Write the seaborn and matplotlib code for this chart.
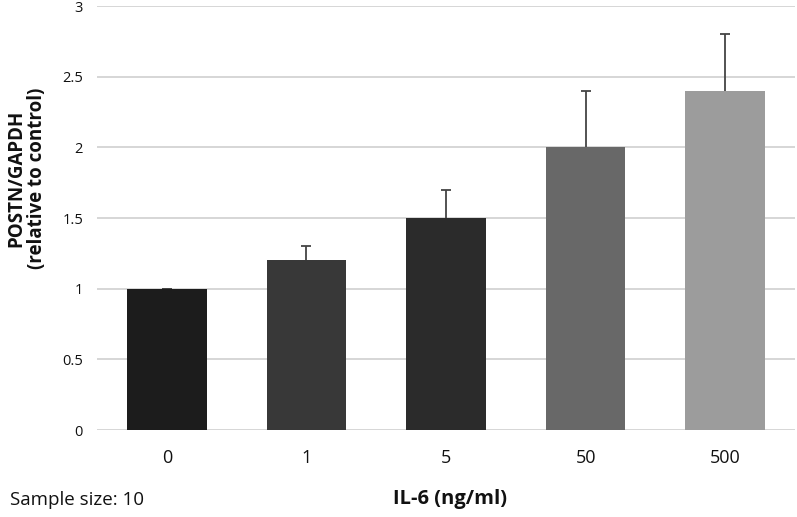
import numpy as np
import pandas as pd
import matplotlib
matplotlib.use('Agg')
import matplotlib.pyplot as plt
import seaborn as sns

doses = ['0', '1', '5', '50', '500']
ratio = [1.0, 1.2, 1.5, 2.0, 2.4]
err_up = [0.0, 0.1, 0.2, 0.4, 0.4]
bar_colors = ['#1c1c1c', '#383838', '#2b2b2b', '#686868', '#9c9c9c']

sns.set_theme(style='white')
plt.rcParams['font.family'] = ['Open Sans', 'DejaVu Sans']

df = pd.DataFrame({'dose': doses, 'ratio': ratio})

fig = plt.figure(figsize=(7.97, 5.17), dpi=100)
ax = fig.add_axes([97 / 797, 1 - 430 / 517, 698 / 797, 424 / 517])

# symmetric bars drawn under the bars -> only the upper half shows
ax.errorbar(np.arange(len(doses)), ratio, yerr=err_up,
            fmt='none', ecolor='#444444', elinewidth=1.3, capsize=3.5,
            capthick=1.3, zorder=2)
sns.barplot(data=df, x='dose', y='ratio', hue='dose', palette=bar_colors,
            legend=False, width=0.57, saturation=1, linewidth=0,
            edgecolor='none', ax=ax, zorder=3)

ax.set_ylim(0, 3)
ax.set_xlim(-0.5, 4.5)
ax.set_yticks([0, 0.5, 1, 1.5, 2, 2.5, 3])
ax.set_yticklabels(['0', '0.5', '1', '1.5', '2', '2.5', '3'])
ax.yaxis.grid(True, color='#d0d0d0', linewidth=1.2, zorder=0)
ax.set_axisbelow(True)
for s in ax.spines.values():
    s.set_visible(False)
ax.tick_params(axis='y', length=0, pad=10, labelsize=10.5, colors='#111111')
ax.tick_params(axis='x', length=0, pad=14, labelsize=13, colors='#111111')
ax.set_xlabel('')
ax.set_ylabel('')

fig.text(27 / 797, 1 - 178 / 517, 'POSTN/GAPDH\n(relative to control)',
         rotation=90, ha='center', va='center', multialignment='center',
         fontsize=13.5, fontweight='bold', color='#111111', linespacing=1.05)
fig.text(450 / 797, 1 - 499 / 517, 'IL-6 (ng/ml)', ha='center', va='center',
         fontsize=14.5, fontweight='bold', color='#111111')
fig.text(10 / 797, 1 - 500 / 517, 'Sample size: 10', ha='left', va='center',
         fontsize=13.5, color='#111111')

fig.savefig('out.png', dpi=100)
